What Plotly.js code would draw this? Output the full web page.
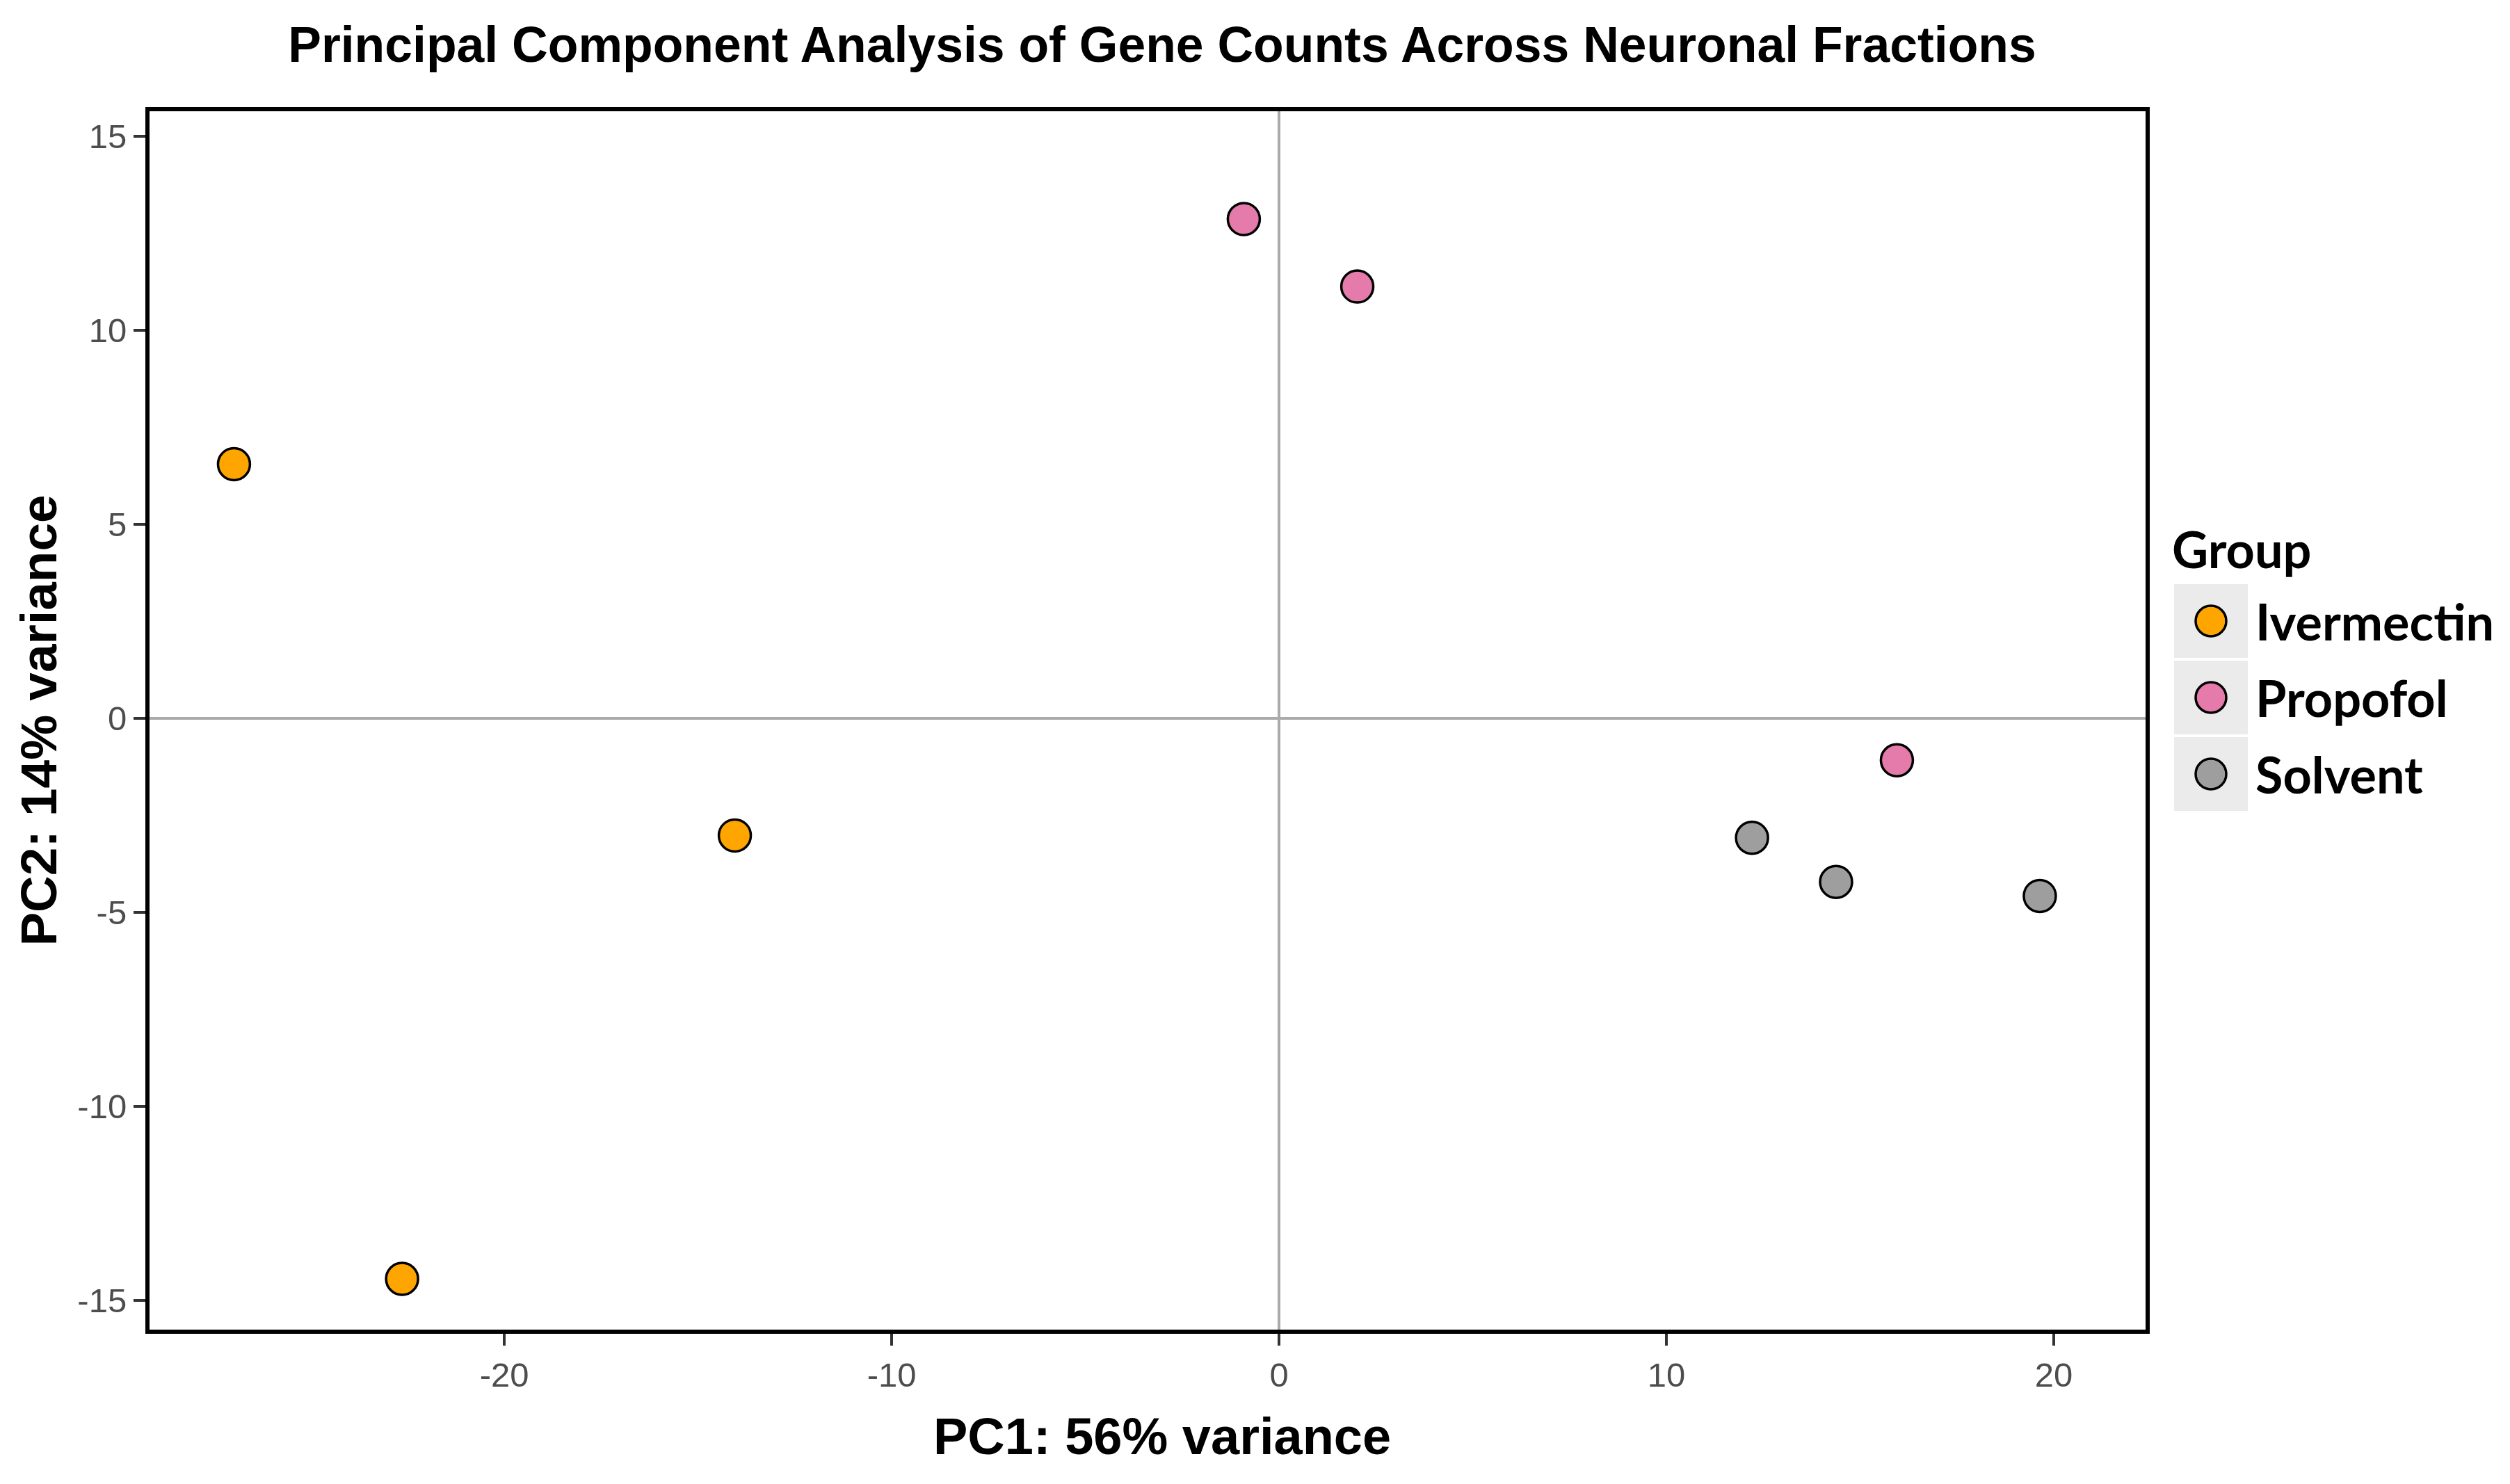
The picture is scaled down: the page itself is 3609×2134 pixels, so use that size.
<!DOCTYPE html>
<html>
<head>
<meta charset="utf-8">
<script src="https://cdn.plot.ly/plotly-3.0.1.min.js"></script>
<style>
  body { margin: 0; background: #fff; }
  #pcaPlot { width: 3609px; height: 2134px; }
</style>
</head>
<body>
<div id="pcaPlot"></div>
<script>
// PCA scores
const groupNames = ['Ivermectin', 'Propofol', 'Solvent'];
const groupColors = ['#FFA500', '#E57BAA', '#9E9E9E'];

const ivermectinPC1 = [-26.98, -22.64, -14.05];
const ivermectinPC2 = [6.55, -14.45, -3.02];
const propofolPC1 = [-0.91, 2.02, 15.95];
const propofolPC2 = [12.87, 11.13, -1.08];
const solventPC1 = [12.21, 14.38, 19.64];
const solventPC2 = [-3.08, -4.22, -4.58];

const xTicks = [-20, -10, 0, 10, 20];
const yTicks = [-15, -10, -5, 0, 5, 10, 15];

const pc1 = [ivermectinPC1, propofolPC1, solventPC1];
const pc2 = [ivermectinPC2, propofolPC2, solventPC2];

// plot box in pixels (inner edge of the black frame)
const W = 3609, H = 2134;
const boxL = 215, boxR = 3085, boxT = 160, boxB = 1912;
const px2x = (p) => (p - boxL) / (boxR - boxL);
const px2y = (p) => (boxB - p) / (boxB - boxT);

const boldSans = '"Liberation Sans", Arial, sans-serif';
const legendFont = 'Lato, "Open Sans", sans-serif';

const data = groupNames.map((name, i) => ({
  x: pc1[i],
  y: pc2[i],
  name: name,
  type: 'scatter',
  mode: 'markers',
  showlegend: false,
  marker: {
    size: 46,
    color: groupColors[i],
    line: {color: '#000000', width: 3.5}
  }
}));

// ggplot-style legend: grey key boxes, big circles, labels
const shapes = [];
const annotations = [{
  text: 'Group',
  xref: 'paper', yref: 'paper',
  x: px2x(3121), y: px2y(789),
  xanchor: 'left', yanchor: 'middle',
  showarrow: false,
  font: {family: legendFont, size: 72, color: '#000000', weight: 'bold'}
}, {
  // x axis title, centred where the original puts it
  text: 'PC1: 56% variance',
  xref: 'paper', yref: 'paper',
  x: px2x(1671), y: px2y(2065),
  xanchor: 'center', yanchor: 'middle',
  showarrow: false,
  font: {family: boldSans, size: 74, color: '#000000', weight: 'bold'}
}];
groupNames.forEach((name, i) => {
  const top = 840 + i * 110;
  const cy = top + 53;
  shapes.push({
    type: 'rect', xref: 'paper', yref: 'paper',
    x0: px2x(3126), x1: px2x(3232), y0: px2y(top), y1: px2y(top + 106),
    fillcolor: '#EBEBEB', line: {width: 0}, layer: 'below'
  });
  shapes.push({
    type: 'circle', xref: 'paper', yref: 'paper',
    x0: px2x(3179 - 22), x1: px2x(3179 + 22), y0: px2y(cy - 22), y1: px2y(cy + 22),
    fillcolor: groupColors[i], line: {color: '#000000', width: 3.5}
  });
  annotations.push({
    text: name,
    xref: 'paper', yref: 'paper',
    x: px2x(3241), y: px2y(cy),
    xanchor: 'left', yanchor: 'middle',
    showarrow: false,
    font: {family: legendFont, size: 72, color: '#000000', weight: 'bold'}
  });
});

const axisCommon = {
  showgrid: false,
  zeroline: true,
  zerolinecolor: '#ABABAB',
  zerolinewidth: 4,
  showline: true,
  linecolor: '#000000',
  linewidth: 6,
  mirror: true,
  ticks: 'outside',
  ticklen: 17,
  tickwidth: 4,
  tickcolor: '#333333',
  tickfont: {family: boldSans, size: 49, color: '#4D4D4D'}
};

const layout = {
  width: W,
  height: H,
  paper_bgcolor: '#FFFFFF',
  plot_bgcolor: '#FFFFFF',
  margin: {l: boxL, r: W - boxR, t: boxT, b: H - boxB, autoexpand: false},
  title: {
    text: 'Principal Component Analysis of Gene Counts Across Neuronal Fractions',
    xref: 'container', x: 1671 / W, xanchor: 'center',
    yref: 'container', y: 1 - 64 / H, yanchor: 'middle',
    font: {family: boldSans, size: 71.5, color: '#000000', weight: 'bold'}
  },
  xaxis: Object.assign({}, axisCommon, {
    range: [-29.16, 22.37],
    tickvals: xTicks,
    ticktext: xTicks.map(String)
  }),
  yaxis: Object.assign({}, axisCommon, {
    range: [-15.76, 15.65],
    tickvals: yTicks,
    ticktext: yTicks.map(String),
    title: {
      text: 'PC2: 14% variance',
      standoff: 8,
      font: {family: boldSans, size: 73, color: '#000000', weight: 'bold'}
    }
  }),
  shapes: shapes,
  annotations: annotations,
  showlegend: false
};

Plotly.newPlot('pcaPlot', data, layout, {displayModeBar: false, staticPlot: true});
</script>
</body>
</html>
